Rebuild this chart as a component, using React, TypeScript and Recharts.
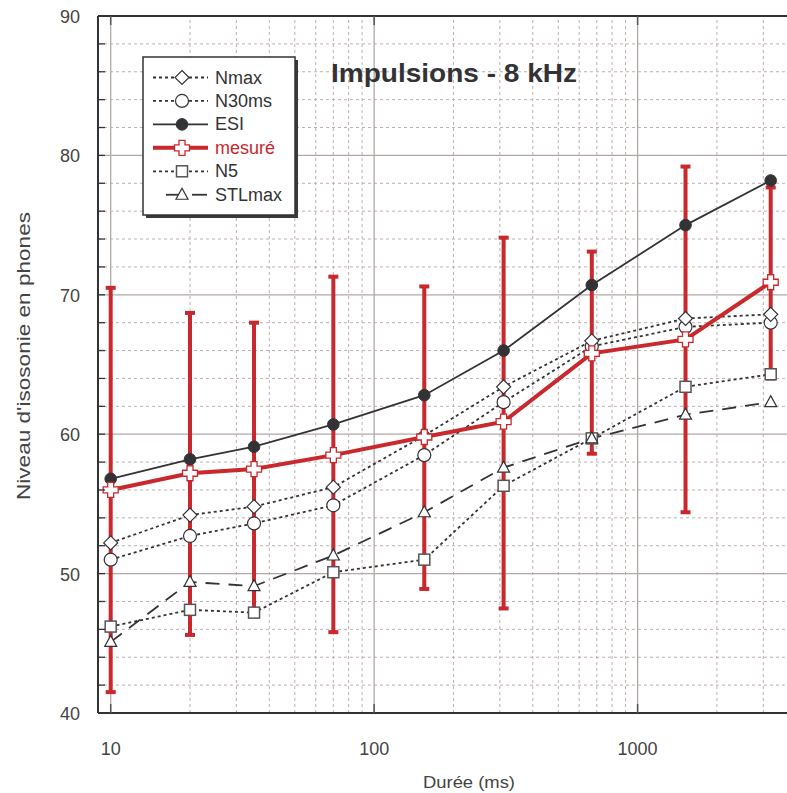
import React from 'react'
import { LineChart, Line, XAxis, YAxis, ReferenceLine, ErrorBar } from 'recharts'

// durations (ms) and loudness levels (phones)
const durations = [10, 20, 35, 70, 155, 310, 670, 1520, 3200]
const nmax = [52.2, 54.2, 54.8, 56.2, 59.9, 63.4, 66.7, 68.3, 68.6]
const n30ms = [51.0, 52.7, 53.6, 54.9, 58.5, 62.3, 66.3, 67.7, 68.0]
const esi = [56.8, 58.2, 59.1, 60.7, 62.8, 66.0, 70.7, 75.0, 78.2]
const mesure = [56.0, 57.2, 57.5, 58.5, 59.8, 60.9, 65.8, 66.8, 70.9]
const mesureLow = [41.5, 45.6, 47.4, 45.8, 48.9, 47.5, 58.6, 54.4, 64.0]
const mesureHigh = [70.5, 68.7, 68.0, 71.3, 70.6, 74.1, 73.1, 79.2, 77.7]
const n5 = [46.2, 47.4, 47.2, 50.1, 51.0, 56.3, 59.7, 63.4, 64.3]
const stlmax = [45.1, 49.4, 49.1, 51.3, 54.4, 57.6, 59.7, 61.4, 62.3]

const xTicks = [10, 100, 1000]
const yTicks = [40, 42, 44, 46, 48, 50, 52, 54, 56, 58, 60, 62, 64, 66, 68, 70, 72, 74, 76, 78, 80, 82, 84, 86, 88, 90]
const yLabels = [40, 50, 60, 70, 80, 90]
const xMinor = [20, 30, 40, 50, 60, 70, 80, 90, 200, 300, 400, 500, 600, 700, 800, 900, 2000, 3000]
const yMinor = yTicks.filter((v) => !yLabels.includes(v))

const data = durations.map((d, i) => ({
  d,
  nmax: nmax[i],
  n30ms: n30ms[i],
  esi: esi[i],
  mesure: mesure[i],
  n5: n5[i],
  stlmax: stlmax[i],
  err: [mesure[i] - mesureLow[i], mesureHigh[i] - mesure[i]],
}))

const DARK = '#333336'
const RED = '#c9282d'
const FONT = '"Liberation Sans", Arial, Helvetica, sans-serif'
const xDomain = [8.95, 3690]

type Shape = (x: number, y: number, k?: string) => React.ReactElement

const shapes: Record<string, Shape> = {
  diamond: (x, y, k) => (
    <path key={k} d={`M${x},${y - 7}L${x + 7},${y}L${x},${y + 7}L${x - 7},${y}Z`} fill="#fff" stroke={DARK} strokeWidth={1.2} />
  ),
  circle: (x, y, k) => <circle key={k} cx={x} cy={y} r={6.5} fill="#fff" stroke={DARK} strokeWidth={1.2} />,
  dot: (x, y, k) => <circle key={k} cx={x} cy={y} r={5.8} fill={DARK} stroke={DARK} />,
  cross: (x, y, k) => {
    const s = 7.5
    const a = 3
    return (
      <path
        key={k}
        d={`M${x - a},${y - s}H${x + a}V${y - a}H${x + s}V${y + a}H${x + a}V${y + s}H${x - a}V${y + a}H${x - s}V${y - a}H${x - a}Z`}
        fill="#fff"
        stroke={RED}
        strokeWidth={1.3}
      />
    )
  },
  square: (x, y, k) => <rect key={k} x={x - 5.5} y={y - 5.5} width={11} height={11} fill="#fff" stroke="#555" strokeWidth={1.5} />,
  triangle: (x, y, k) => (
    <path key={k} d={`M${x},${y - 6.5}L${x + 6},${y + 4.5}L${x - 6},${y + 4.5}Z`} fill="#fff" stroke={DARK} strokeWidth={1.2} />
  ),
}

const series = [
  { key: 'n5', name: 'N5', color: DARK, width: 1.8, dash: '3 3', shape: 'square' },
  { key: 'stlmax', name: 'STLmax', color: DARK, width: 1.8, dash: '14 9', shape: 'triangle' },
  { key: 'n30ms', name: 'N30ms', color: DARK, width: 1.8, dash: '3 3', shape: 'circle' },
  { key: 'nmax', name: 'Nmax', color: DARK, width: 1.8, dash: '3 3', shape: 'diamond' },
  { key: 'esi', name: 'ESI', color: DARK, width: 1.8, dash: undefined, shape: 'dot' },
  { key: 'mesure', name: 'mesuré', color: RED, width: 4, dash: undefined, shape: 'cross' },
]
const legendOrder = ['nmax', 'n30ms', 'esi', 'mesure', 'n5', 'stlmax']

const makeDot = (shape: string, key: string) => (p: any) => shapes[shape](p.cx, p.cy, `${key}-${p.index}`)

const LeftTick = (p: any) => {
  const v = p.payload.value
  return (
    <g>
      <line x1={p.x} x2={p.x + 7} y1={p.y} y2={p.y} stroke={DARK} strokeWidth={1.3} />
      {yLabels.includes(v) && (
        <text x={p.x - 18} y={p.y + 7} textAnchor="end" fontSize={18} fill="#444" fontFamily={FONT}>
          {v}
        </text>
      )}
    </g>
  )
}

const BottomTick = (p: any) => (
  <g>
    <line x1={p.x} x2={p.x} y1={p.y} y2={p.y - 9} stroke="#555" strokeWidth={1.5} />
    <text x={p.x} y={p.y + 42} textAnchor="middle" fontSize={18} fill="#444" fontFamily={FONT}>
      {p.payload.value}
    </text>
  </g>
)

const TopTick = (p: any) => <line x1={p.x} x2={p.x} y1={p.y} y2={p.y + 9} stroke="#555" strokeWidth={1.5} />

function LegendBox() {
  const left = 143
  const top = 57
  const rows = legendOrder.map((k) => series.find((s) => s.key === k)!)
  return (
    <g fontFamily={FONT} fontSize={18}>
      <rect x={left + 3} y={top + 3} width={152} height={158} fill="#3a3a3a" />
      <rect x={left} y={top} width={152} height={158} fill="#fff" stroke={DARK} strokeWidth={1.5} />
      {rows.map((s, i) => {
        const base = top + 26.5 + i * 23.45
        const ly = base - 6
        return (
          <g key={s.key}>
            {s.key === 'stlmax' ? (
              <g stroke={s.color} strokeWidth={s.width}>
                <line x1={166} x2={182} y1={ly} y2={ly} />
                <line x1={192} x2={207} y1={ly} y2={ly} />
              </g>
            ) : (
              <line x1={153} x2={208} y1={ly} y2={ly} stroke={s.color} strokeWidth={s.width} strokeDasharray={s.dash} />
            )}
            {shapes[s.shape](182, ly)}
            <text x={215} y={base} fill={s.key === 'mesure' ? RED : DARK}>
              {s.name}
            </text>
          </g>
        )
      })}
    </g>
  )
}

export default function App() {
  return (
    <div style={{ position: 'absolute', left: 0, top: 0, width: 787, height: 793, overflow: 'hidden', background: '#fff' }}>
      <LineChart width={787} height={793} data={data} margin={{ top: 0, right: 0, bottom: 0, left: 0 }}>
        {xMinor.map((v) => (
          <ReferenceLine key={`xm${v}`} x={v} stroke="#bfb0b0" strokeDasharray="3 3" strokeWidth={1} />
        ))}
        {yMinor.map((v) => (
          <ReferenceLine key={`ym${v}`} y={v} stroke="#bfb0b0" strokeDasharray="3 3" strokeWidth={1} />
        ))}
        {xTicks.map((v) => (
          <ReferenceLine key={`xM${v}`} x={v} stroke="#b2a8a6" strokeWidth={1.3} />
        ))}
        {yLabels.slice(1, -1).map((v) => (
          <ReferenceLine key={`yM${v}`} y={v} stroke="#b2a8a6" strokeWidth={1.3} />
        ))}
        <XAxis
          dataKey="d"
          type="number"
          scale="log"
          domain={xDomain}
          allowDataOverflow
          ticks={xTicks}
          height={80}
          tickSize={0}
          tickMargin={0}
          tick={<BottomTick />}
          axisLine={{ stroke: DARK, strokeWidth: 2 }}
        />
        <XAxis
          xAxisId="top"
          orientation="top"
          dataKey="d"
          type="number"
          scale="log"
          domain={xDomain}
          allowDataOverflow
          ticks={xTicks}
          height={16}
          tickSize={0}
          tickMargin={0}
          tick={<TopTick />}
          axisLine={{ stroke: DARK, strokeWidth: 2 }}
        />
        <YAxis
          type="number"
          domain={[40, 90]}
          allowDataOverflow
          ticks={yTicks}
          interval={0}
          width={98}
          tickSize={0}
          tickMargin={0}
          tick={<LeftTick />}
          axisLine={{ stroke: DARK, strokeWidth: 2 }}
        />
        {/* error bars of the measured values, drawn beneath every series */}
        <Line dataKey="mesure" stroke="none" dot={false} activeDot={false} legendType="none" isAnimationActive={false}>
          <ErrorBar dataKey="err" direction="y" width={5} strokeWidth={4} stroke={RED} isAnimationActive={false} />
        </Line>
        {series.map((s) => (
          <Line
            key={s.key}
            dataKey={s.key}
            name={s.name}
            stroke={s.color}
            strokeWidth={s.width}
            strokeDasharray={s.dash}
            dot={makeDot(s.shape, s.key)}
            activeDot={false}
            isAnimationActive={false}
          />
        ))}
      </LineChart>
      <svg width={787} height={793} style={{ position: 'absolute', left: 0, top: 0, pointerEvents: 'none' }}>
        <LegendBox />
        <text x={454} y={82} textAnchor="middle" fontFamily={FONT} fontWeight="bold" fontSize={25} fill={DARK} textLength={246} lengthAdjust="spacingAndGlyphs">
          Impulsions - 8 kHz
        </text>
        <text x={469} y={788} textAnchor="middle" fontFamily={FONT} fontSize={17} fill="#444" textLength={92} lengthAdjust="spacingAndGlyphs">
          Durée (ms)
        </text>
        <text
          transform="translate(30,356) rotate(-90)"
          textAnchor="middle"
          fontFamily={FONT}
          fontSize={19}
          fill="#444"
          textLength={288}
          lengthAdjust="spacingAndGlyphs"
        >
          Niveau d'isosonie en phones
        </text>
      </svg>
    </div>
  )
}
